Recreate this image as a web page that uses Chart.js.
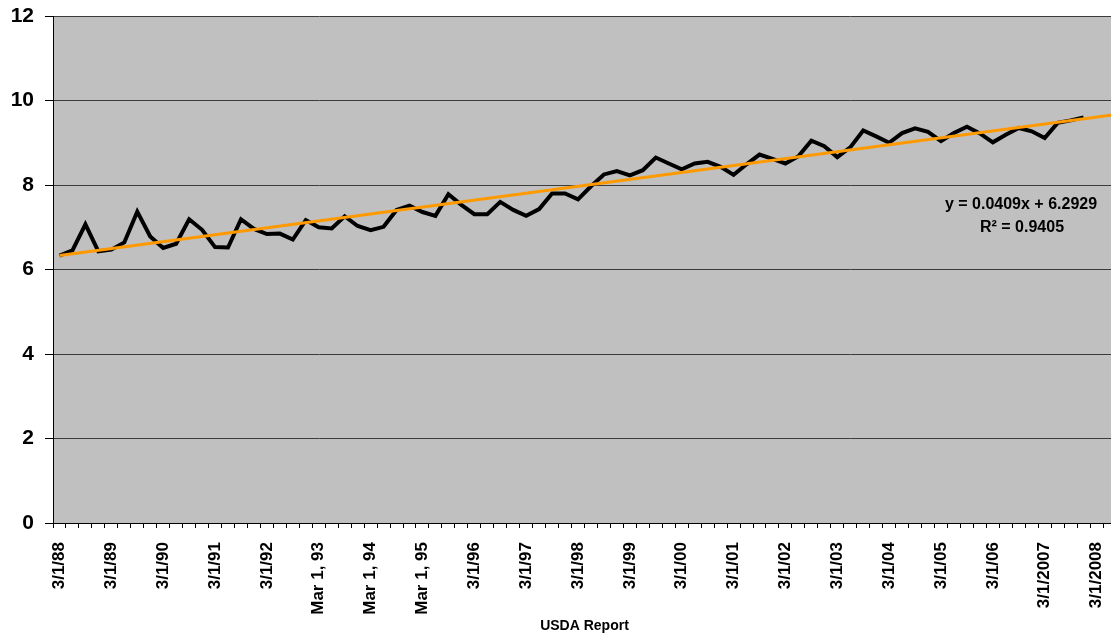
<!DOCTYPE html>
<html>
<head>
<meta charset="utf-8">
<script src="https://cdn.jsdelivr.net/npm/chart.js@4"></script>
<style>
  html, body { margin: 0; padding: 0; background: #fff; overflow: hidden; }
  #wrap { width: 1116px; height: 640px; }
</style>
</head>
<body>
<div id="wrap"><canvas id="lineChart" width="1116" height="640"></canvas></div>
<script>
// one label per year, the axis has one category per quarter
const yearLabels = [
    "3/1/88", "3/1/89", "3/1/90", "3/1/91", "3/1/92",
    "Mar 1, 93", "Mar 1, 94", "Mar 1, 95",
    "3/1/96", "3/1/97", "3/1/98", "3/1/99", "3/1/00", "3/1/01",
    "3/1/02", "3/1/03", "3/1/04", "3/1/05", "3/1/06",
    "3/1/2007", "3/1/2008"
];
const quarterCount = 82;

// quarterly values, 1988 Q1 .. 2007 Q4
const reportValues = [
    6.33, 6.45, 7.07, 6.43, 6.47, 6.64, 7.37, 6.78, 6.51, 6.61,
    7.19, 6.94, 6.53, 6.52, 7.19, 6.96, 6.84, 6.85, 6.71, 7.17,
    7.00, 6.97, 7.26, 7.03, 6.93, 7.01, 7.41, 7.51, 7.36, 7.27,
    7.78, 7.53, 7.31, 7.31, 7.60, 7.41, 7.27, 7.43, 7.80, 7.80,
    7.66, 7.97, 8.25, 8.33, 8.23, 8.35, 8.65, 8.51, 8.37, 8.51,
    8.55, 8.43, 8.24, 8.49, 8.72, 8.62, 8.51, 8.68, 9.05, 8.92,
    8.66, 8.89, 9.29, 9.15, 9.00, 9.23, 9.34, 9.26, 9.04, 9.23,
    9.38, 9.22, 9.01, 9.19, 9.35, 9.27, 9.11, 9.47, 9.53, 9.60
];

// linear trendline as printed on the chart
const trendSlope = 0.0409;
const trendIntercept = 6.2929;
const trendFrom = 1;
const trendTo = 82.5;
const trendText = ["y = 0.0409x + 6.2929", "R\u00B2 = 0.9405"];

const yMin = 0, yMax = 12, yStep = 2;

const categories = Array.from({ length: quarterCount }, (_, i) =>
    i % 4 === 0 && yearLabels[i / 4] !== undefined ? yearLabels[i / 4] : "");

const trendPoints = [trendFrom, trendTo].map(x => ({ x: x, y: trendSlope * x + trendIntercept }));

const FONT = "'Liberation Sans', Arial, sans-serif";

const plotBackground = {
    id: "plotBackground",
    beforeDraw(chart) {
        const { ctx, chartArea: a } = chart;
        ctx.save();
        ctx.fillStyle = "#C0C0C0";
        ctx.fillRect(a.left, a.top, a.right - a.left, a.bottom - a.top);
        ctx.restore();
    }
};

const trendLabel = {
    id: "trendLabel",
    afterDatasetsDraw(chart) {
        const ctx = chart.ctx;
        ctx.save();
        ctx.fillStyle = "#000";
        ctx.font = "bold 16px " + FONT;
        ctx.textAlign = "center";
        ctx.textBaseline = "middle";
        ctx.fillText(trendText[0], 1021, 205);
        ctx.fillText(trendText[1], 1022, 228);
        ctx.restore();
    }
};

new Chart(document.getElementById("lineChart"), {
    type: "line",
    data: {
        labels: categories,
        datasets: [
            {
                label: "Trend",
                data: trendPoints,
                xAxisID: "xt",
                borderColor: "#FF9900",
                borderWidth: 3,
                pointRadius: 0,
                tension: 0
            },
            {
                label: "USDA",
                data: reportValues,
                xAxisID: "x",
                borderColor: "#000000",
                borderWidth: 4,
                borderJoinStyle: "miter",
                pointRadius: 0,
                tension: 0
            }
        ]
    },
    options: {
        responsive: false,
        animation: false,
        layout: { padding: { top: 16, left: 0, right: 0, bottom: 0 } },
        plugins: {
            legend: { display: false },
            tooltip: { enabled: false }
        },
        scales: {
            x: {
                type: "category",
                offset: true,
                grid: {
                    offset: true,
                    drawOnChartArea: false,
                    drawTicks: true,
                    tickLength: 5,
                    tickColor: "#000"
                },
                border: { color: "#000", width: 1 },
                ticks: {
                    autoSkip: false,
                    minRotation: 90,
                    maxRotation: 90,
                    padding: 14,
                    color: "#000",
                    font: { family: FONT, size: 17, weight: "bold" }
                },
                title: {
                    display: true,
                    text: "USDA Report",
                    color: "#000",
                    padding: { top: 0, bottom: 5 },
                    font: { family: FONT, size: 14, weight: "bold" }
                },
                afterFit(scale) {
                    scale.height = 117;
                    scale.paddingLeft = 0;
                    scale.paddingRight = 0;
                }
            },
            xt: {
                type: "linear",
                display: false,
                min: 0.5,
                max: quarterCount + 0.5
            },
            y: {
                min: yMin,
                max: yMax,
                grid: {
                    color: "#3c3c3c",
                    lineWidth: 1,
                    tickLength: 8,
                    tickColor: "#000"
                },
                border: { color: "#000", width: 1 },
                ticks: {
                    stepSize: yStep,
                    padding: 11,
                    color: "#000",
                    font: { family: FONT, size: 21, weight: "bold" }
                },
                afterFit(scale) {
                    scale.width = 53;
                    scale.paddingTop = 0;
                    scale.paddingBottom = 0;
                }
            }
        }
    },
    plugins: [plotBackground, trendLabel]
});
</script>
</body>
</html>
